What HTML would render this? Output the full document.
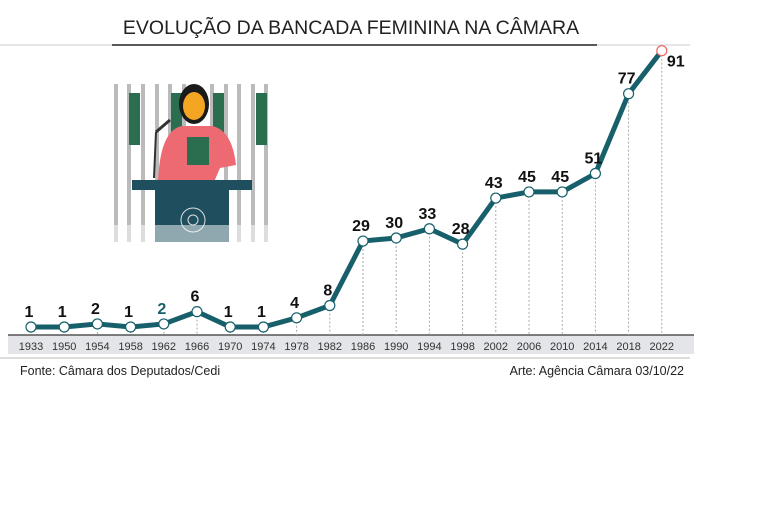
<!DOCTYPE html>
<html><head><meta charset="utf-8"><style>
body{margin:0;background:#fff;font-family:"Liberation Sans",sans-serif;}
svg text{font-family:"Liberation Sans",sans-serif;}
</style></head><body>
<svg width="768" height="512">
<line x1="0" y1="45" x2="690" y2="45" stroke="#ccc"/>
<line x1="112" y1="45" x2="597" y2="45" stroke="#222" stroke-width="1.5"/>
<text x="351" y="34" text-anchor="middle" font-size="19.5" fill="#222">EVOLUÇÃO DA BANCADA FEMININA NA CÂMARA</text>
<g>
<g fill="#bbb"><rect x="114" y="84" width="4" height="158"/><rect x="127" y="84" width="4" height="158"/><rect x="141" y="84" width="4" height="158"/><rect x="155" y="84" width="4" height="158"/><rect x="168" y="84" width="4" height="158"/><rect x="182" y="84" width="4" height="158"/><rect x="210" y="84" width="4" height="158"/><rect x="224" y="84" width="4" height="158"/><rect x="237" y="84" width="4" height="158"/><rect x="251" y="84" width="4" height="158"/><rect x="264" y="84" width="4" height="158"/></g>
<g fill="#2a6e4f"><rect x="129" y="93" width="11" height="52"/><rect x="171" y="93" width="11" height="52"/><rect x="213" y="93" width="11" height="52"/><rect x="256" y="93" width="11" height="52"/></g>
<path d="M158 182 Q160 130 182 126 L212 126 Q232 130 236 165 L220 168 L214 182 Z" fill="#ee6a72"/>
<ellipse cx="194" cy="104" rx="15" ry="20" fill="#1a1a1a"/>
<ellipse cx="194" cy="106" rx="11" ry="14" fill="#f4a623"/>
<rect x="187" y="137" width="22" height="28" fill="#2a6e4f"/>
<line x1="154" y1="178" x2="156" y2="132" stroke="#333" stroke-width="2"/>
<line x1="156" y1="132" x2="170" y2="120" stroke="#333" stroke-width="3"/>
<rect x="132" y="180" width="120" height="10" fill="#1f4f5e"/>
<rect x="155" y="190" width="74" height="52" fill="#1f4f5e"/>
<circle cx="193" cy="220" r="12" fill="none" stroke="#ddd"/><circle cx="193" cy="220" r="5" fill="none" stroke="#ddd"/>
<rect x="110" y="225" width="160" height="20" fill="#fff" opacity="0.5"/>
</g>
<rect x="8" y="335" width="686" height="19" fill="#e3e5e8"/>
<line x1="8" y1="335" x2="694" y2="335" stroke="#555" stroke-width="1.5"/>
<line x1="0" y1="358" x2="690" y2="358" stroke="#bbb"/>
<g id="grid"></g><g id="ticks"></g>
<polyline id="line" fill="none" stroke="#17606b" stroke-width="5" stroke-linejoin="round"/>
<g id="pts"></g><g id="labels"></g>
<text x="20" y="375" font-size="12.5" fill="#222">Fonte: Câmara dos Deputados/Cedi</text>
<text x="684" y="375" font-size="12.5" fill="#222" text-anchor="end">Arte: Agência Câmara 03/10/22</text>
</svg>
<script>
const years=["1933","1950","1954","1958","1962","1966","1970","1974","1978","1982","1986","1990","1994","1998","2002","2006","2010","2014","2018","2022"];
const seats=[1,1,2,1,2,6,1,1,4,8,29,30,33,28,43,45,45,51,77,91];
const NS="http://www.w3.org/2000/svg";
const x=i=>31+i*33.2;
const y=v=>327-(v-1)*3.07;
function mk(t,a,p){const e=document.createElementNS(NS,t);for(const k in a)e.setAttribute(k,a[k]);p.appendChild(e);return e;}
const pts=[];
years.forEach((yr,i)=>{
 const g=mk('line',{x1:x(i),x2:x(i),y1:y(seats[i]),y2:335,stroke:'#aaa','stroke-dasharray':'2,2'},document.getElementById('grid'));
 
 
 const t=mk('text',{x:x(i),y:350,'font-size':11,'text-anchor':'middle',fill:'#333'},document.getElementById('ticks'));
 t.textContent=yr;
 
 
 pts.push(x(i)+','+y(seats[i]));
});
document.getElementById('line').setAttribute('points',pts.join(' '));
seats.forEach((v,i)=>{
 const last=i===seats.length-1;
 const c=mk('circle',{cx:x(i),cy:y(v),r:5,fill:'#fff',stroke:last?'#e66':'#17606b','stroke-width':1.2},document.getElementById('pts'));
 
 
 const t=mk('text',{x:last?x(i)+14:x(i)-2,y:last?y(v)+16:y(v)-10,'font-size':16,'font-weight':'bold','text-anchor':'middle',fill:i===4?'#17606b':'#111'},document.getElementById('labels'));
 t.textContent=v;
 
 
});
</script>
</body></html>
